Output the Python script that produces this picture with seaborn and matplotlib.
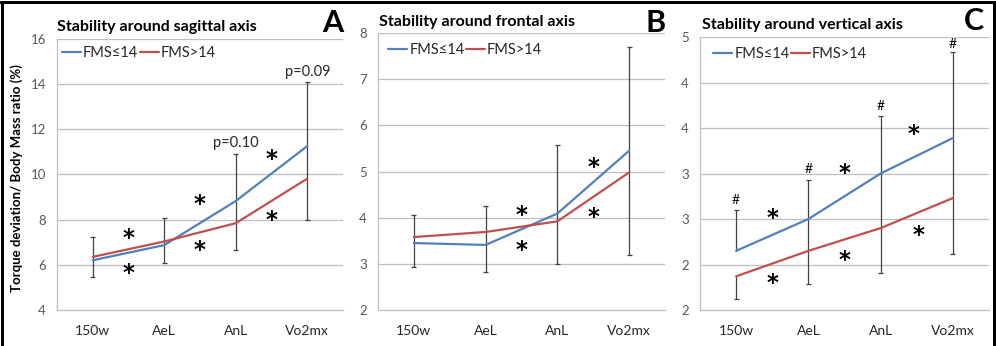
import matplotlib
matplotlib.use("Agg")
import matplotlib.pyplot as plt
import seaborn as sns
import pandas as pd
import numpy as np
from matplotlib.lines import Line2D

sns.set_theme(style="white")
plt.rcParams['font.family'] = ['Lato', 'DejaVu Sans']

# ---------------- data ----------------
categories = ["150w", "AeL", "AnL", "Vo2mx"]
series_names = ["FMS\u226414", "FMS>14"]

# Panel A: sagittal axis
a_low = [6.20, 6.87, 8.82, 11.25]     # FMS<=14
a_high = [6.35, 7.03, 7.84, 9.81]     # FMS>14
a_err_top = [7.24, 8.08, 10.90, 14.10]
a_err_bot = [5.48, 6.10, 6.65, 7.99]
a_err_join = [True, True, True, True]

# Panel B: frontal axis
b_low = [3.45, 3.41, 4.09, 5.45]
b_high = [3.58, 3.69, 3.92, 4.98]
b_err_top = [4.05, 4.25, 5.58, 7.69]
b_err_bot = [2.94, 2.83, 2.99, 3.20]
b_err_join = [True, True, True, True]

# Panel C: vertical axis
c_low = [2.65, 3.00, 3.50, 3.89]
c_high = [2.37, 2.65, 2.90, 3.23]
c_err_top = [3.10, 3.43, 4.13, 4.83]
c_err_bot = [2.12, 2.29, 2.41, 2.62]
c_err_join = [False, True, True, True]

titles = ["Stability around sagittal axis", "Stability around frontal axis",
          "Stability around vertical axis"]
letters = ["A", "B", "C"]

a_yticks = [4, 6, 8, 10, 12, 14, 16]
a_yticklabels = ["4", "6", "8", "10", "12", "14", "16"]
b_yticks = [2, 3, 4, 5, 6, 7, 8]
b_yticklabels = ["2", "3", "4", "5", "6", "7", "8"]
c_yticks = [2.0, 2.5, 3.0, 3.5, 4.0, 4.5, 5.0]
c_yticklabels = ["2", "2", "3", "3", "4", "4", "5"]

# annotations: (x position between categories, y)
a_stars_x = [0.5, 0.5, 1.5, 1.5, 2.5, 2.5]
a_stars_y = [7.35, 5.81, 8.83, 6.80, 10.86, 8.16]
b_stars_x = [1.5, 1.5, 2.5, 2.5]
b_stars_y = [4.13, 3.38, 5.17, 4.10]
c_stars_x = [0.5, 0.5, 1.5, 1.5, 2.45, 2.52]
c_stars_y = [3.05, 2.34, 3.55, 2.59, 3.97, 2.86]
a_ptext = ["p=0.10", "p=0.09"]
a_ptext_x = [2, 3]
a_ptext_y = [11.4, 14.53]
c_hash_x = [0, 1, 2, 3]
c_hash_y = [3.21, 3.55, 4.24, 4.92]

BLUE = "#4F81BD"
RED = "#C0504D"
GRID = "#BFBFBF"
TICKC = "#595959"
ERRC = "#404040"

W, H = 996, 346
fig = plt.figure(figsize=(W / 100, H / 100), dpi=100)

def fr(px_left, px_top, px_right, px_bottom):
    return [px_left / W, 1 - px_bottom / H, (px_right - px_left) / W, (px_bottom - px_top) / H]

axes_rects = [fr(57, 38.7, 343, 310), fr(378, 33, 665, 310), fr(700, 37, 989, 310)]
panels = [
    (a_low, a_high, a_err_top, a_err_bot, a_err_join, a_yticks, a_yticklabels),
    (b_low, b_high, b_err_top, b_err_bot, b_err_join, b_yticks, b_yticklabels),
    (c_low, c_high, c_err_top, c_err_bot, c_err_join, c_yticks, c_yticklabels),
]
legend_pos = [(0.017, 0.947), (0.035, 0.939), (0.045, 0.938)]
title_pos = [(57, 27), (379, 22), (702, 25)]
letter_pos = [(333, 23), (656, 23), (974, 21)]


def star(ax, x, y):
    ax.annotate("*", (x, y), xytext=(0, -3), textcoords="offset points",
                fontsize=16.5, fontweight="bold", ha="center", va="center",
                color="black", family=["DejaVu Sans"])


for i, (low, high, etop, ebot, ejoin, yt, ytl) in enumerate(panels):
    ax = fig.add_axes(axes_rects[i])
    df = pd.DataFrame({
        "cat": categories * 2,
        "val": list(low) + list(high),
        "grp": [series_names[0]] * 4 + [series_names[1]] * 4,
    })
    xpos = np.arange(len(categories))
    # error bars
    for k in range(len(categories)):
        if ejoin[k]:
            ax.vlines(xpos[k], ebot[k], etop[k], color=ERRC, lw=0.9, zorder=2)
        else:
            ax.vlines(xpos[k], low[k], etop[k], color=ERRC, lw=0.9, zorder=2)
            ax.vlines(xpos[k], ebot[k], high[k], color=ERRC, lw=0.9, zorder=2)
        for yy in (etop[k], ebot[k]):
            ax.hlines(yy, xpos[k] - 0.035, xpos[k] + 0.035, color=ERRC, lw=0.9, zorder=2)
    df["x"] = df["cat"].map({c: j for j, c in enumerate(categories)})
    sns.lineplot(data=df, x="x", y="val", hue="grp", palette=[BLUE, RED],
                 ax=ax, lw=1.6, legend=False, zorder=3, sort=False)
    ax.set_xlim(-0.5, 3.5)
    ax.set_ylim(yt[0], yt[-1])
    ax.set_yticks(yt)
    ax.set_yticklabels(ytl, fontsize=9.5, color=TICKC)
    ax.set_xticks([-0.5, 0.5, 1.5, 2.5, 3.5])
    ax.set_xticklabels([])
    ax.set_xticks(xpos, minor=True)
    ax.set_xticklabels(categories, minor=True, fontsize=10, color="#262626")
    ax.tick_params(axis="x", which="major", length=4, width=0.8, color=GRID, direction="out")
    ax.tick_params(axis="x", which="minor", length=0, pad=11)
    ax.tick_params(axis="y", length=5, width=0.8, color=GRID, direction="out", pad=3)
    ax.set_xlabel("")
    ax.set_ylabel("")
    for yy in yt[1:]:
        ax.axhline(yy, color=GRID, lw=0.9, zorder=1)
    for s in ["top", "right"]:
        ax.spines[s].set_visible(False)
    for s in ["left", "bottom"]:
        ax.spines[s].set_color(GRID)
        ax.spines[s].set_linewidth(0.9)
    handles = [Line2D([0], [0], color=BLUE, lw=1.6), Line2D([0], [0], color=RED, lw=1.6)]
    ax.legend(handles, series_names, loc="center left", bbox_to_anchor=legend_pos[i],
              ncol=2, frameon=False, handlelength=1.3, handletextpad=0.15,
              columnspacing=0.1, borderpad=0, borderaxespad=0,
              prop={"size": 10.5, "family": ["Lato", "DejaVu Sans"]},
              labelcolor="#262626")
    fig.text(title_pos[i][0] / W, 1 - title_pos[i][1] / H, titles[i], fontsize=11.5,
             fontweight="bold", ha="left", va="center", color="black")
    fig.text(letter_pos[i][0] / W, 1 - letter_pos[i][1] / H, letters[i], fontsize=22,
             fontweight="bold", ha="center", va="center", color="black")

    if i == 0:
        for xs, ys in zip(a_stars_x, a_stars_y):
            star(ax, xs, ys)
        for t, xs, ys in zip(a_ptext, a_ptext_x, a_ptext_y):
            ax.text(xs, ys, t, fontsize=10.5, ha="center", va="center", color="#262626",
                    clip_on=False)
    elif i == 1:
        for xs, ys in zip(b_stars_x, b_stars_y):
            star(ax, xs, ys)
    else:
        for xs, ys in zip(c_stars_x, c_stars_y):
            star(ax, xs, ys)
        for xs, ys in zip(c_hash_x, c_hash_y):
            ax.text(xs, ys, "#", fontsize=10, ha="center", va="center", color="black")

fig.text(17 / W, 1 - 178 / H, "Torque deviation/ Body Mass ratio (%)", rotation=90,
         fontsize=9.5, fontweight="bold", ha="center", va="center", color="black")

# outer frame (left, top, right)
fr_lw = 3 * 72 / 100
fig.add_artist(Line2D([1.5 / W, 1.5 / W], [0, 1 - 1.5 / H], color="black", lw=fr_lw,
                      transform=fig.transFigure))
fig.add_artist(Line2D([0, 1], [1 - 1.5 / H, 1 - 1.5 / H], color="black", lw=fr_lw,
                      transform=fig.transFigure))
fig.add_artist(Line2D([1 - 2.5 / W, 1 - 2.5 / W], [0, 1 - 1.5 / H], color="black", lw=fr_lw,
                      transform=fig.transFigure))

fig.savefig("out.png", dpi=100)
